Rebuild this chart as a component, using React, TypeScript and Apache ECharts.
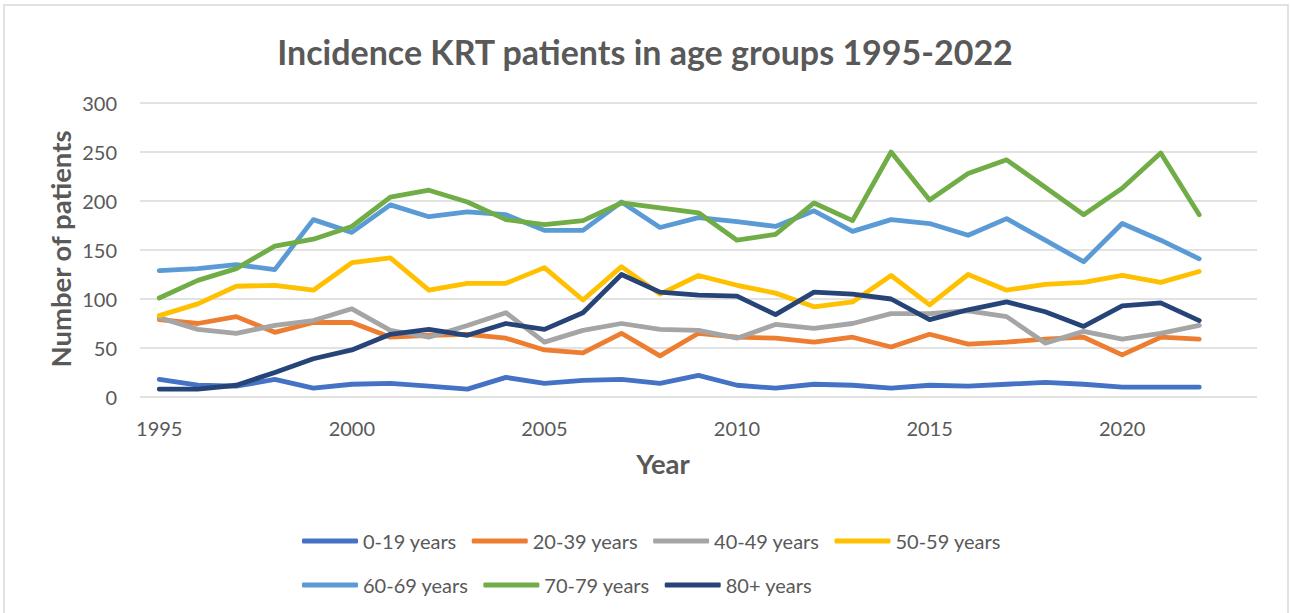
import React, { useEffect, useRef } from "react";
import * as echarts from "echarts";

const years = [
  1995, 1996, 1997, 1998, 1999, 2000, 2001, 2002, 2003, 2004, 2005, 2006, 2007, 2008,
  2009, 2010, 2011, 2012, 2013, 2014, 2015, 2016, 2017, 2018, 2019, 2020, 2021, 2022,
];

const age0_19 = [18, 12, 11, 18, 9, 13, 14, 11, 8, 20, 14, 17, 18, 14, 22, 12, 9, 13, 12, 9, 12, 11, 13, 15, 13, 10, 10, 10];
const age20_39 = [79, 75, 82, 66, 76, 76, 61, 63, 64, 60, 48, 45, 65, 42, 65, 61, 60, 56, 61, 51, 64, 54, 56, 59, 61, 43, 61, 59];
const age40_49 = [81, 69, 65, 73, 78, 90, 68, 61, 73, 86, 56, 68, 75, 69, 68, 60, 74, 70, 75, 85, 85, 88, 82, 55, 67, 59, 65, 73];
const age50_59 = [83, 95, 113, 114, 109, 137, 142, 109, 116, 116, 132, 99, 133, 105, 124, 114, 106, 92, 97, 124, 94, 125, 109, 115, 117, 124, 117, 128];
const age60_69 = [129, 131, 135, 130, 181, 168, 196, 184, 189, 186, 170, 170, 199, 173, 183, 179, 174, 190, 169, 181, 177, 165, 182, 160, 138, 177, 160, 141];
const age70_79 = [101, 119, 131, 154, 161, 174, 204, 211, 199, 181, 176, 180, 198, 193, 188, 160, 166, 198, 180, 250, 201, 228, 242, 214, 186, 213, 249, 186];
const age80plus = [8, 8, 12, 25, 39, 48, 64, 69, 63, 75, 69, 86, 125, 107, 104, 103, 84, 107, 105, 100, 79, 89, 97, 87, 72, 93, 96, 78];

const seriesNames = ["0-19 years", "20-39 years", "40-49 years", "50-59 years", "60-69 years", "70-79 years", "80+ years"];
const seriesColors = ["#4472C4", "#ED7D31", "#A5A5A5", "#FFC000", "#5B9BD5", "#70AD47", "#264478"];
const seriesValues = [age0_19, age20_39, age40_49, age50_59, age60_69, age70_79, age80plus];

const yTicks = { min: 0, max: 300, interval: 50 };

const FONT = "Lato";
const TEXT = "#595959";

export default function App() {
  const ref = useRef<HTMLDivElement>(null);

  useEffect(() => {
    document.body.style.margin = "0";
    if (!ref.current) return;
    const chart = echarts.init(ref.current, null, { renderer: "svg" });

    // Excel's axis leaves one empty slot after the last year
    const categories = [...years.map(String), ""];

    const legendCommon = {
      left: 297,
      itemWidth: 56,
      itemHeight: 5,
      itemGap: 15,
      icon: "roundRect",
      textStyle: { fontFamily: FONT, fontSize: 20, color: TEXT },
    };

    chart.setOption({
      animation: false,
      backgroundColor: "#ffffff",
      title: {
        text: "Incidence KRT patients in age groups 1995-2022",
        left: "center",
        top: 29,
        textStyle: { fontFamily: FONT, fontSize: 34, fontWeight: "bold", color: TEXT },
      },
      legend: [
        { ...legendCommon, top: 526, data: seriesNames.slice(0, 4) },
        { ...legendCommon, top: 570, data: seriesNames.slice(4) },
      ],
      grid: { left: 140, right: 33, top: 103, bottom: 216, containLabel: false },
      xAxis: {
        type: "category",
        data: categories,
        boundaryGap: true,
        axisLine: { show: false },
        axisTick: { show: false },
        axisLabel: {
          interval: 4,
          margin: 21,
          fontFamily: FONT,
          fontSize: 20,
          color: TEXT,
        },
        splitLine: { show: false },
      },
      yAxis: {
        type: "value",
        min: yTicks.min,
        max: yTicks.max,
        interval: yTicks.interval,
        axisLine: { show: false },
        axisTick: { show: false },
        axisLabel: { margin: 23, fontFamily: FONT, fontSize: 20, color: TEXT },
        splitLine: { lineStyle: { color: "#d9d9d9", width: 1.5 } },
      },
      graphic: [
        {
          type: "rect",
          shape: { x: 4, y: 5, width: 1284, height: 640 },
          style: { fill: "none", stroke: "#d9d9d9", lineWidth: 1.5 },
          silent: true,
        },
        {
          type: "text",
          x: 60,
          y: 249,
          rotation: Math.PI / 2,
          style: {
            text: "Number of patients",
            fontFamily: FONT,
            fontSize: 27.5,
            fontWeight: "bold",
            fill: TEXT,
            textAlign: "center",
            textVerticalAlign: "middle",
          },
        },
        {
          type: "text",
          x: 663,
          y: 463,
          style: {
            text: "Year",
            fontFamily: FONT,
            fontSize: 27.5,
            fontWeight: "bold",
            fill: TEXT,
            textAlign: "center",
            textVerticalAlign: "middle",
          },
        },
      ],
      series: seriesNames.map((name, i) => ({
        name,
        type: "line",
        data: seriesValues[i],
        symbol: "none",
        color: seriesColors[i],
        lineStyle: { width: 4.8, color: seriesColors[i], cap: "round", join: "round" },
        itemStyle: { color: seriesColors[i] },
      })),
    });

    return () => chart.dispose();
  }, []);

  return <div ref={ref} style={{ width: 1290, height: 613 }} />;
}
